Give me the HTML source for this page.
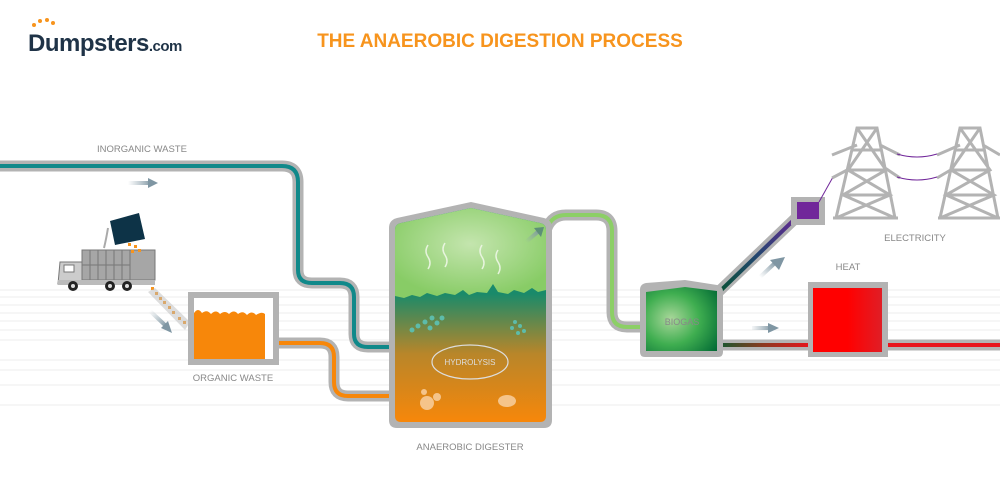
<!DOCTYPE html>
<html><head><meta charset="utf-8"><style>
html,body{margin:0;padding:0;background:#fff;}
svg{display:block;font-family:"Liberation Sans",sans-serif;}
</style></head><body>
<svg width="1000" height="500" viewBox="0 0 1000 500" xmlns="http://www.w3.org/2000/svg">
<defs>
<linearGradient id="dig" x1="0" y1="0" x2="0" y2="1">
<stop offset="0" stop-color="#0f8f86"/><stop offset="0.4" stop-color="#1a8a6a"/><stop offset="0.68" stop-color="#b8862a"/><stop offset="1" stop-color="#f7870a"/></linearGradient>
<radialGradient id="grn" cx="0.5" cy="0.4" r="0.6"><stop offset="0" stop-color="#c4e5ae"/><stop offset="1" stop-color="#88cc66"/></radialGradient>
<radialGradient id="bio" cx="0.35" cy="0.5" r="0.8"><stop offset="0" stop-color="#a9d79a"/><stop offset="0.5" stop-color="#3fae50"/><stop offset="1" stop-color="#036b35"/></radialGradient>
<linearGradient id="redl" gradientUnits="userSpaceOnUse" x1="715" y1="0" x2="810" y2="0"><stop offset="0" stop-color="#0a5a30"/><stop offset="0.5" stop-color="#8a3a20"/><stop offset="1" stop-color="#e8141c"/></linearGradient>
<linearGradient id="heat" x1="0" y1="0" x2="1" y2="0"><stop offset="0.5" stop-color="#ff0000"/><stop offset="1" stop-color="#e01e26"/></linearGradient>
<linearGradient id="purp" gradientUnits="userSpaceOnUse" x1="714" y1="297" x2="800" y2="214"><stop offset="0" stop-color="#05522e"/><stop offset="0.5" stop-color="#23466f"/><stop offset="1" stop-color="#6a2795"/></linearGradient>
<linearGradient id="ga1" gradientUnits="userSpaceOnUse" x1="128" y1="0" x2="152" y2="0"><stop offset="0" stop-color="#8fa3ae" stop-opacity="0"/><stop offset="1" stop-color="#7f96a3"/></linearGradient>
<linearGradient id="ga2" gradientUnits="userSpaceOnUse" x1="750" y1="0" x2="772" y2="0"><stop offset="0" stop-color="#8fa3ae" stop-opacity="0"/><stop offset="1" stop-color="#7f96a3"/></linearGradient>
<linearGradient id="ga" x1="0" y1="1" x2="1" y2="0"><stop offset="0" stop-color="#8fa3ae" stop-opacity="0"/><stop offset="1" stop-color="#7f96a3"/></linearGradient>
<linearGradient id="ga3" x1="0" y1="0" x2="1" y2="1"><stop offset="0" stop-color="#8fa3ae" stop-opacity="0"/><stop offset="1" stop-color="#7f96a3"/></linearGradient>
</defs>
<g stroke="#eeeeee" stroke-width="1">
<line x1="0" y1="290" x2="1000" y2="290"/><line x1="0" y1="297" x2="1000" y2="297"/><line x1="0" y1="305" x2="1000" y2="305"/><line x1="0" y1="313" x2="1000" y2="313"/><line x1="0" y1="321" x2="1000" y2="321"/><line x1="0" y1="330" x2="1000" y2="330"/><line x1="0" y1="340" x2="1000" y2="340"/><line x1="0" y1="360" x2="1000" y2="360"/><line x1="0" y1="370" x2="1000" y2="370"/><line x1="0" y1="385" x2="1000" y2="385"/><line x1="0" y1="405" x2="1000" y2="405"/>
</g>
<g fill="#f7941d"><circle cx="34" cy="25" r="2"/><circle cx="40" cy="21" r="2"/><circle cx="47" cy="20" r="2"/><circle cx="53" cy="23" r="2"/></g>
<text x="28" y="51" font-size="24" font-weight="bold" fill="#1f3347" letter-spacing="-0.5">Dumpsters<tspan font-size="15">.com</tspan></text>
<text x="500" y="47" font-size="19" font-weight="bold" fill="#f7941d" text-anchor="middle">THE ANAEROBIC DIGESTION PROCESS</text>
<path d="M0 166 H282 Q298 166 298 182 V270 Q298 283 312 283 H340 Q354 283 354 297 V334 Q354 347 368 347 H400" fill="none" stroke="#b3b3b3" stroke-width="11"/>
<path d="M0 166 H282 Q298 166 298 182 V270 Q298 283 312 283 H340 Q354 283 354 297 V334 Q354 347 368 347 H398" fill="none" stroke="#10898a" stroke-width="4"/>
<polygon points="398,341 408,347 398,353" fill="#10898a"/>
<path d="M275 343 H320 Q334 343 334 357 V382 Q334 396 348 396 H400" fill="none" stroke="#b3b3b3" stroke-width="11"/>
<path d="M275 343 H320 Q334 343 334 357 V382 Q334 396 348 396 H398" fill="none" stroke="#f7870a" stroke-width="4"/>
<polygon points="398,390 408,396 398,402" fill="#f7870a"/>
<rect x="188" y="292" width="91" height="73" fill="#b3b3b3"/>
<rect x="194" y="298" width="79" height="61" fill="#fff"/>
<path d="M194 313 q4 -6 8 0 q5 -4 9 1 q5 -5 9 0 q5 -4 9 0 q5 -5 9 0 q5 -4 9 1 q5 -5 9 0 q6 -4 9 -1 V359 H194Z" fill="#f7870a"/>
<text x="233" y="381" font-size="9.5" fill="#888" text-anchor="middle">ORGANIC WASTE</text>
<text x="142" y="152" font-size="9.5" fill="#888" text-anchor="middle">INORGANIC WASTE</text>
<path d="M128 183 H150" stroke="url(#ga1)" stroke-width="4"/><polygon points="148,178 158,183 148,188" fill="#7f96a3"/>
<path d="M150 311 L166 326" stroke="url(#ga3)" stroke-width="4"/><polygon points="161,328 172,333 168,321" fill="#7f96a3"/>
<g>
<rect x="82" y="250" width="73" height="30" fill="#a6a6a6" stroke="#777" stroke-width="1"/>
<g stroke="#777" stroke-width="1"><line x1="90" y1="250" x2="90" y2="280"/><line x1="98" y1="250" x2="98" y2="280"/><line x1="106" y1="250" x2="106" y2="280"/><line x1="114" y1="250" x2="114" y2="280"/><line x1="122" y1="250" x2="122" y2="280"/><line x1="130" y1="250" x2="130" y2="280"/><line x1="82" y1="265" x2="130" y2="265"/></g>
<path d="M60 262 H82 V284 H58 Z" fill="#ccc" stroke="#777"/>
<rect x="64" y="265" width="10" height="7" fill="#fff" stroke="#777"/>
<rect x="58" y="280" width="97" height="5" fill="#bbb"/>
<g fill="#222"><circle cx="73" cy="286" r="5"/><circle cx="110" cy="286" r="5"/><circle cx="127" cy="286" r="5"/></g>
<g fill="#ddd"><circle cx="73" cy="286" r="2"/><circle cx="110" cy="286" r="2"/><circle cx="127" cy="286" r="2"/></g>
<path d="M104 248 Q106 240 108 228" stroke="#aaa" stroke-width="2" fill="none"/>
<polygon points="110,221 139,213 145,239 115,245" fill="#0d3347"/>
<g fill="#f7941d"><rect x="128" y="243" width="3" height="3"/><rect x="134" y="245" width="3" height="3"/><rect x="131" y="250" width="3" height="3"/><rect x="138" y="249" width="3" height="3"/><rect x="151" y="287" width="3" height="3"/><rect x="155" y="292" width="3" height="3"/><rect x="159" y="297" width="3" height="3"/><rect x="163" y="301" width="3" height="3"/><rect x="168" y="306" width="3" height="3"/><rect x="172" y="311" width="3" height="3"/><rect x="178" y="317" width="3" height="3"/><rect x="183" y="321" width="3" height="3"/></g>
<polygon points="148,292 155,288 190,322 185,330" fill="#bbb" opacity="0.5"/>
</g>
<path d="M547 228 Q552 215 566 215 H596 Q612 215 612 231 V312 Q612 327 627 327 H645" fill="none" stroke="#b3b3b3" stroke-width="11"/>
<path d="M547 228 Q552 215 566 215 H596 Q612 215 612 231 V312 Q612 327 627 327 H645" fill="none" stroke="#8ccf66" stroke-width="4"/>
<path d="M389 228 Q389 220 397 218 L471 202 L544 218 Q552 220 552 228 V420 Q552 428 544 428 H397 Q389 428 389 420 Z" fill="#b3b3b3"/>
<path d="M395 230 Q395 224 401 223 L471 208 L540 223 Q546 224 546 230 V416 Q546 422 540 422 H401 Q395 422 395 416 Z" fill="url(#dig)"/>
<path d="M395 230 Q395 224 401 223 L471 208 L540 223 Q546 224 546 230 V290 l-8 2 l-6 -4 l-8 5 l-10 -3 l-6 4 l-10 -2 l-5 -8 l-6 9 l-10 -1 l-8 3 l-6 -5 l-8 5 l-10 -2 l-8 3 l-10 -3 l-7 4 l-8 -2 l-8 3 l-9 -2 V230 Z" fill="url(#grn)"/>
<g stroke="#eef7e6" stroke-width="1.5" fill="none" opacity="0.9"><path d="M428 245 q-4 6 0 12 q4 6 0 12"/><path d="M445 243 q-4 6 0 12 q4 6 0 12"/><path d="M482 245 q-4 6 0 12 q4 6 0 12"/><path d="M498 250 q-4 6 0 12 q4 6 0 12"/></g>
<path d="M526 242 L540 230" stroke="url(#ga)" stroke-width="4"/><polygon points="534,228 544,227 541,237" fill="#5e8f78"/>
<g fill="#5dbcaa"><circle cx="412" cy="330" r="2.5"/><circle cx="418" cy="326" r="2.5"/><circle cx="425" cy="322" r="2.5"/><circle cx="432" cy="318" r="2.5"/><circle cx="437" cy="323" r="2.5"/><circle cx="430" cy="328" r="2.5"/><circle cx="442" cy="318" r="2.5"/><circle cx="515" cy="322" r="2"/><circle cx="520" cy="326" r="2"/><circle cx="512" cy="328" r="2"/><circle cx="524" cy="331" r="2"/><circle cx="518" cy="333" r="2"/></g>
<ellipse cx="470" cy="362" rx="38" ry="17" fill="none" stroke="#ddd" stroke-width="1.2"/>
<text x="470" y="365" font-size="8" fill="#ddd" text-anchor="middle">HYDROLYSIS</text>
<g fill="#f5c48a"><circle cx="427" cy="403" r="7"/><circle cx="424" cy="392" r="3"/><circle cx="437" cy="397" r="4"/><ellipse cx="507" cy="401" rx="9" ry="6"/></g>
<text x="470" y="450" font-size="9.5" fill="#888" text-anchor="middle">ANAEROBIC DIGESTER</text>
<path d="M715 345 H1000" stroke="#b3b3b3" stroke-width="11"/>
<path d="M715 345 H1000" stroke="url(#redl)" stroke-width="4"/>
<path d="M712 298 L800 214" stroke="#b3b3b3" stroke-width="11"/>
<path d="M714 297 L800 214" stroke="url(#purp)" stroke-width="4"/>
<path d="M640 290 Q640 284 646 283 L685 280 L717 285 Q723 286 723 292 V352 Q723 357 718 357 H645 Q640 357 640 352 Z" fill="#b3b3b3"/>
<path d="M646 292 L685 287 L717 291 V351 H646 Z" fill="url(#bio)"/>
<text x="682" y="325" font-size="9" fill="#888" text-anchor="middle">BIOGAS</text>
<rect x="791" y="197" width="34" height="28" fill="#b3b3b3"/>
<rect x="797" y="202" width="22" height="17" fill="#71279a"/>
<line x1="819" y1="202" x2="833" y2="177" stroke="#71279a" stroke-width="1"/>
<g stroke="#b3b3b3" stroke-width="3" fill="none">
<path d="M833 218 H898 M836 218 L857 128 H877 L895 218 M852 150 H882 M848 170 H886 M843 195 H890 M857 128 L886 170 L843 195 L895 218 M877 128 L848 170 L890 195 L836 218 M832 155 L857 145 M832 178 L851 168 M900 155 L880 145 M900 178 L885 168"/>
<path d="M938 218 H1000 M940 218 L960 128 H980 L998 218 M955 150 H985 M951 170 H990 M946 195 H994 M960 128 L990 170 L946 195 L998 218 M980 128 L951 170 L994 195 L940 218 M937 155 L960 145 M937 178 L954 168 M1000 155 L983 145"/>
</g>
<g stroke="#71279a" stroke-width="1" fill="none"><path d="M897 154 Q917 160 937 154"/><path d="M897 177 Q917 183 937 177"/></g>
<text x="915" y="241" font-size="9.5" fill="#888" text-anchor="middle">ELECTRICITY</text>
<text x="848" y="270" font-size="9.5" fill="#888" text-anchor="middle">HEAT</text>
<rect x="808" y="282" width="80" height="75" fill="#b3b3b3"/>
<rect x="813" y="288" width="69" height="64" fill="url(#heat)"/>
<path d="M760 277 L776 262" stroke="url(#ga)" stroke-width="4"/><polygon points="770,260 785,257 779,270" fill="#7f96a3"/>
<path d="M752 328 H770" stroke="url(#ga2)" stroke-width="4"/><polygon points="768,323 779,328 768,333" fill="#7f96a3"/>
</svg>
</body></html>
